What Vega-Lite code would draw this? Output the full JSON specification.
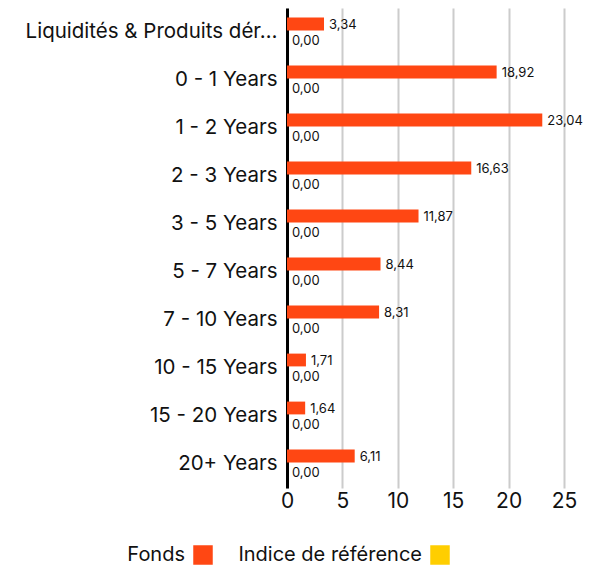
{
  "$schema": "https://vega.github.io/schema/vega-lite/v6.json",
  "width": 277,
  "height": 480,
  "autosize": {"type": "none"},
  "padding": {"left": 287, "top": 8, "right": 37, "bottom": 87},
  "config": {
    "locale": {"number": {"decimal": ",", "thousands": " ", "grouping": [3], "currency": ["", " €"]}},
    "font": "Inter",
    "view": {"stroke": null}
  },
  "data": {
    "values": [
      {"cat": "Liquidités & Produits dérivés", "serie": "Fonds", "val": 3.34},
      {"cat": "Liquidités & Produits dérivés", "serie": "Indice de référence", "val": 0},
      {"cat": "0 - 1 Years", "serie": "Fonds", "val": 18.92},
      {"cat": "0 - 1 Years", "serie": "Indice de référence", "val": 0},
      {"cat": "1 - 2 Years", "serie": "Fonds", "val": 23.04},
      {"cat": "1 - 2 Years", "serie": "Indice de référence", "val": 0},
      {"cat": "2 - 3 Years", "serie": "Fonds", "val": 16.63},
      {"cat": "2 - 3 Years", "serie": "Indice de référence", "val": 0},
      {"cat": "3 - 5 Years", "serie": "Fonds", "val": 11.87},
      {"cat": "3 - 5 Years", "serie": "Indice de référence", "val": 0},
      {"cat": "5 - 7 Years", "serie": "Fonds", "val": 8.44},
      {"cat": "5 - 7 Years", "serie": "Indice de référence", "val": 0},
      {"cat": "7 - 10 Years", "serie": "Fonds", "val": 8.31},
      {"cat": "7 - 10 Years", "serie": "Indice de référence", "val": 0},
      {"cat": "10 - 15 Years", "serie": "Fonds", "val": 1.71},
      {"cat": "10 - 15 Years", "serie": "Indice de référence", "val": 0},
      {"cat": "15 - 20 Years", "serie": "Fonds", "val": 1.64},
      {"cat": "15 - 20 Years", "serie": "Indice de référence", "val": 0},
      {"cat": "20+ Years", "serie": "Fonds", "val": 6.11},
      {"cat": "20+ Years", "serie": "Indice de référence", "val": 0}
    ]
  },
  "encoding": {
    "y": {
      "field": "cat", "type": "nominal", "sort": null,
      "scale": {"paddingInner": 0.4, "paddingOuter": 0.2},
      "axis": {
        "title": null, "ticks": false, "labelPadding": 10, "labelFontSize": 20.5,
        "labelColor": "#111", "labelLimit": 257, "domainColor": "#000", "domainWidth": 3,
        "grid": false
      }
    },
    "yOffset": {"field": "serie", "type": "nominal", "scale": {"paddingInner": 0.2}},
    "x": {
      "field": "val", "type": "quantitative",
      "scale": {"domain": [0, 25], "nice": false},
      "axis": {
        "title": null, "values": [0, 5, 10, 15, 20, 25], "format": "d", "domain": false, "ticks": false,
        "labelFontSize": 21, "labelColor": "#111", "labelPadding": 2, "labelFlush": false,
        "gridColor": "#cccccc", "gridWidth": 2
      }
    }
  },
  "layer": [
    {
      "mark": {"type": "bar"},
      "encoding": {
        "color": {
          "field": "serie", "type": "nominal",
          "scale": {"domain": ["Fonds", "Indice de référence"], "range": ["#ff4713", "#ffce00"]},
          "legend": {
            "title": null, "orient": "none", "direction": "horizontal",
            "legendX": -94, "legendY": 537,
            "symbolType": "square", "symbolSize": 380, "symbolStrokeWidth": 0,
            "labelFontSize": 20, "labelColor": "#111", "labelAlign": "right", "labelOffset": -28,
            "labelLimit": 400, "columnPadding": 25
          }
        }
      }
    },
    {
      "mark": {"type": "text", "align": "left", "dx": 5, "dy": 1, "fontSize": 13, "color": "#111"},
      "encoding": {
        "text": {"field": "val", "type": "quantitative", "format": ".2f"}
      }
    }
  ]
}
